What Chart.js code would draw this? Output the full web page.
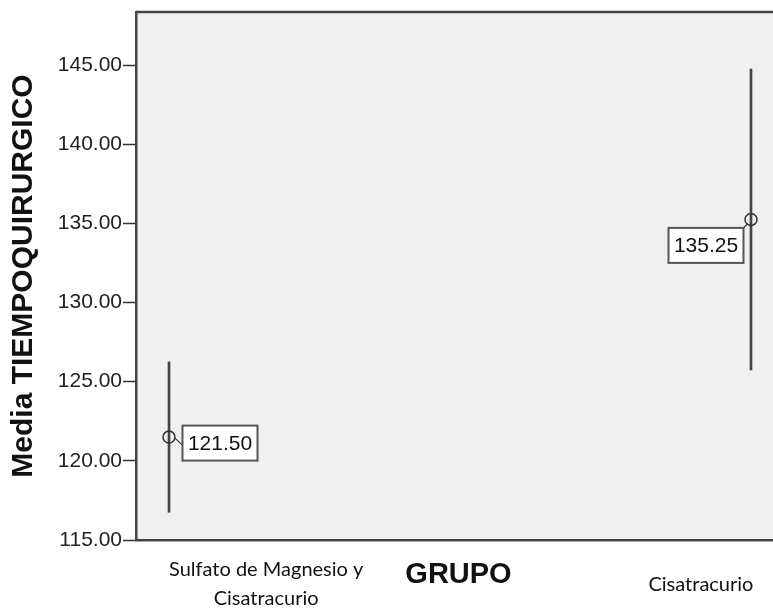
<!DOCTYPE html>
<html>
<head>
<meta charset="utf-8">
<script src="https://cdn.jsdelivr.net/npm/chart.js@4.4.1/dist/chart.umd.min.js"></script>
<style>
  html, body { margin: 0; padding: 0; background: #fff; }
  canvas { display: block; }
</style>
</head>
<body>
<canvas id="errorChart" width="773" height="612"></canvas>
<script>
// Data
const groups = [['Sulfato de Magnesio y', 'Cisatracurio'], 'Cisatracurio'];
const groupPos = [0, 1];            // x position of each group's mean
const labelPos = [0.167, 0.914];    // x position of each group name
const means = [121.50, 135.25];
const lower = [116.75, 125.75];
const upper = [126.25, 144.75];
const yTicks = [115, 120, 125, 130, 135, 140, 145];

// value box offsets from the mean marker (px)
const boxOffsets = [{ dx: 51, dy: 6 }, { dx: -45, dy: 26 }];

const frameColor = '#444';

// grey plot background + top frame line
const plotFrame = {
    id: 'plotFrame',
    beforeDraw(chart) {
        const { ctx, chartArea: a } = chart;
        ctx.save();
        ctx.fillStyle = '#f0f0f0';
        ctx.fillRect(a.left, a.top, a.right - a.left, a.bottom - a.top);
        ctx.strokeStyle = frameColor;
        ctx.lineWidth = 2.5;
        ctx.beginPath();
        ctx.moveTo(a.left, a.top);
        ctx.lineTo(a.right, a.top);
        ctx.stroke();
        ctx.restore();
    }
};

// boxed mean labels
const meanLabels = {
    id: 'meanLabels',
    afterDatasetsDraw(chart) {
        const { ctx, scales: { x, y } } = chart;
        ctx.save();
        ctx.font = '21px "Liberation Sans", Arial, sans-serif';
        ctx.textAlign = 'center';
        ctx.textBaseline = 'middle';
        means.forEach((m, i) => {
            const px = x.getPixelForValue(groupPos[i]);
            const py = y.getPixelForValue(m);
            const cx = px + boxOffsets[i].dx;
            const cy = py + boxOffsets[i].dy;
            const w = 75, h = 35;
            // connector
            ctx.strokeStyle = '#333';
            ctx.lineWidth = 1.2;
            ctx.beginPath();
            if (boxOffsets[i].dx > 0) {
                ctx.moveTo(px + 6, py + 1);
                ctx.lineTo(cx - w / 2, cy + 2);
            } else {
                ctx.moveTo(px - 4, py + 5);
                ctx.lineTo(cx + w / 2, cy - h / 2);
            }
            ctx.stroke();
            ctx.fillStyle = '#fff';
            ctx.fillRect(cx - w / 2, cy - h / 2, w, h);
            ctx.strokeStyle = '#555';
            ctx.lineWidth = 2;
            ctx.strokeRect(cx - w / 2, cy - h / 2, w, h);
            ctx.fillStyle = '#111';
            ctx.fillText(m.toFixed(2), cx, cy + 1);
        });
        ctx.restore();
    }
};

// x axis title sits between the wrapped group names, so draw it here
const groupTitle = {
    id: 'groupTitle',
    afterDraw(chart) {
        const { ctx, chartArea: a } = chart;
        ctx.save();
        ctx.font = 'bold 29px "Liberation Sans", Arial, sans-serif';
        ctx.fillStyle = '#111';
        ctx.textAlign = 'center';
        ctx.textBaseline = 'middle';
        ctx.fillText('GRUPO', (a.left + a.right) / 2 + 4, 575);
        ctx.restore();
    }
};

new Chart(document.getElementById('errorChart'), {
    type: 'bar',
    data: {
        datasets: [{
            type: 'line',
            label: 'Media',
            data: groupPos.map((p, i) => ({ x: p, y: means[i] })),
            showLine: false,
            pointRadius: 6,
            pointHoverRadius: 6,
            pointBorderWidth: 1.5,
            pointBackgroundColor: 'rgba(0,0,0,0)',
            pointBorderColor: '#333'
        }, {
            label: 'IC 95%',
            data: groupPos.map((p, i) => ({ x: p, y: [lower[i], upper[i]] })),
            backgroundColor: '#444',
            borderWidth: 0,
            barThickness: 2
        }]
    },
    options: {
        responsive: false,
        animation: false,
        layout: { autoPadding: false, padding: { top: 12, right: 0, left: 0, bottom: 0 } },
        plugins: {
            legend: { display: false },
            tooltip: { enabled: false }
        },
        scales: {
            x: {
                type: 'linear',
                offset: false,
                min: -0.0567,
                max: 1.0378,
                afterBuildTicks: (s) => { s.ticks = labelPos.map(v => ({ value: v })); },
                afterFit: (s) => { s.height = 72; s.paddingLeft = 0; s.paddingRight = 0; },
                grid: { display: false, drawTicks: false, offset: false },
                border: { display: true, color: frameColor, width: 2.5 },
                ticks: {
                    autoSkip: false,
                    maxRotation: 0,
                    padding: 30,
                    crossAlign: 'center',
                    color: '#111',
                    font: { family: 'Lato, "Open Sans", sans-serif', size: 20, lineHeight: '29px' },
                    callback: (v, i) => groups[i]
                }
            },
            y: {
                min: 115,
                max: 148.35,
                afterBuildTicks: (s) => { s.ticks = yTicks.map(v => ({ value: v })); },
                afterFit: (s) => { s.width = 136; s.paddingTop = 0; s.paddingBottom = 0; },
                grid: {
                    drawOnChartArea: false,
                    drawTicks: true,
                    tickLength: 13,
                    tickWidth: 1.5,
                    tickColor: '#333'
                },
                border: { display: true, color: frameColor, width: 2.5 },
                ticks: {
                    padding: 1,
                    color: '#222',
                    font: { family: '"Liberation Sans", Arial, sans-serif', size: 21 },
                    callback: (v) => v.toFixed(2)
                },
                title: {
                    display: true,
                    text: 'Media TIEMPOQUIRURGICO',
                    color: '#111',
                    font: { family: '"Liberation Sans", Arial, sans-serif', size: 30, weight: 'bold' },
                    padding: { top: 6, bottom: 0 }
                }
            }
        }
    },
    plugins: [plotFrame, meanLabels, groupTitle]
});
</script>
</body>
</html>
